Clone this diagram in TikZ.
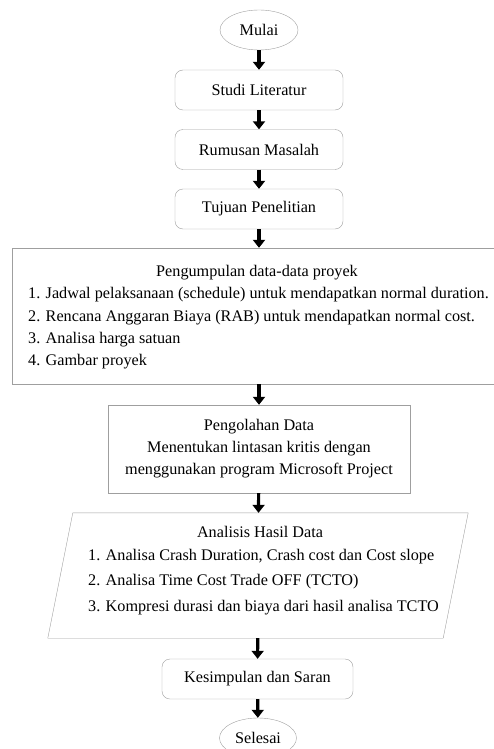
\documentclass[tikz,border=0pt]{standalone}
\usepackage{fontspec}
\setmainfont{Liberation Serif}
\usetikzlibrary{shapes.geometric,arrows.meta,positioning}

\begin{document}
\begin{tikzpicture}[x=1pt,y=-1pt,font=\fontsize{16.2}{22}\selectfont,
  terminal/.style={ellipse,draw=gray!75,thin,minimum width=78pt,minimum height=40pt,inner sep=0pt},
  proses/.style={rectangle,rounded corners=8pt,draw=gray!75,thin,minimum width=168pt,minimum height=40pt,inner sep=0pt},
  kotak/.style={rectangle,draw=gray!75,thin,inner sep=0pt},
  butir/.style={anchor=west,inner sep=0pt},
  panah/.style={-{Triangle[width=12pt,length=8pt]},line width=3.2pt}]

\useasboundingbox (0,0) rectangle (493,749);

\node[terminal] (mulai) at (259,30) {Mulai};
\node[proses] (studi) at (259,90) {Studi Literatur};
\node[proses] (rumusan) at (259,149.5) {Rumusan Masalah};
\node[proses] (tujuan) at (259,209) {Tujuan Penelitian};

% pengumpulan data
\node[kotak,minimum width=508pt,minimum height=136pt] (kumpul) at (266,316) {};
\node[inner sep=0pt] (kumpuljudul) at (257,273) {Pengumpulan data-data proyek};
\node[butir] (k1) at (28,295) {1. Jadwal pelaksanaan (schedule) untuk mendapatkan normal duration.};
\node[butir] (k2) at (28,318) {2. Rencana Anggaran Biaya (RAB) untuk mendapatkan normal cost.};
\node[butir] (k3) at (28,340) {3. Analisa harga satuan};
\node[butir] (k4) at (28,362) {4. Gambar proyek};

\node[kotak,minimum width=302pt,minimum height=88pt,align=center] (olah) at (259,449)
  {Pengolahan Data\\Menentukan lintasan kritis dengan\\menggunakan program Microsoft Project};

% analisis (jajar genjang)
\node[inner sep=0pt,minimum width=395pt,minimum height=125pt] (analisis) at (258,575.5) {};
\draw[gray!75,thin] ([xshift=12.5pt]analisis.north west) -- ([xshift=12.5pt]analisis.north east)
  -- ([xshift=-12.5pt]analisis.south east) -- ([xshift=-12.5pt]analisis.south west) -- cycle;
\node[inner sep=0pt] (analisisjudul) at (260,532) {Analisis Hasil Data};
\node[butir] (a1) at (88,557) {1. Analisa Crash Duration, Crash cost dan Cost slope};
\node[butir] (a2) at (88,582) {2. Analisa Time Cost Trade OFF (TCTO)};
\node[butir] (a3) at (88,608) {3. Kompresi durasi dan biaya dari hasil analisa TCTO};

\node[proses,minimum width=191pt] (simpul) at (257.5,679) {Kesimpulan dan Saran};
\node[terminal,minimum width=77pt] (selesai) at (258,738) {Selesai};

\draw[panah] (mulai) -- (studi);
\draw[panah] (studi) -- (rumusan);
\draw[panah] (rumusan) -- (tujuan);
\draw[panah] (tujuan.south) -- (tujuan.south |- kumpul.north);
\draw[panah] (kumpul.south -| olah.north) -- (olah);
\draw[panah] (olah) -- (analisis);
\draw[panah] (analisis) -- (simpul);
\draw[panah] (simpul) -- (selesai);

\end{tikzpicture}
\end{document}
